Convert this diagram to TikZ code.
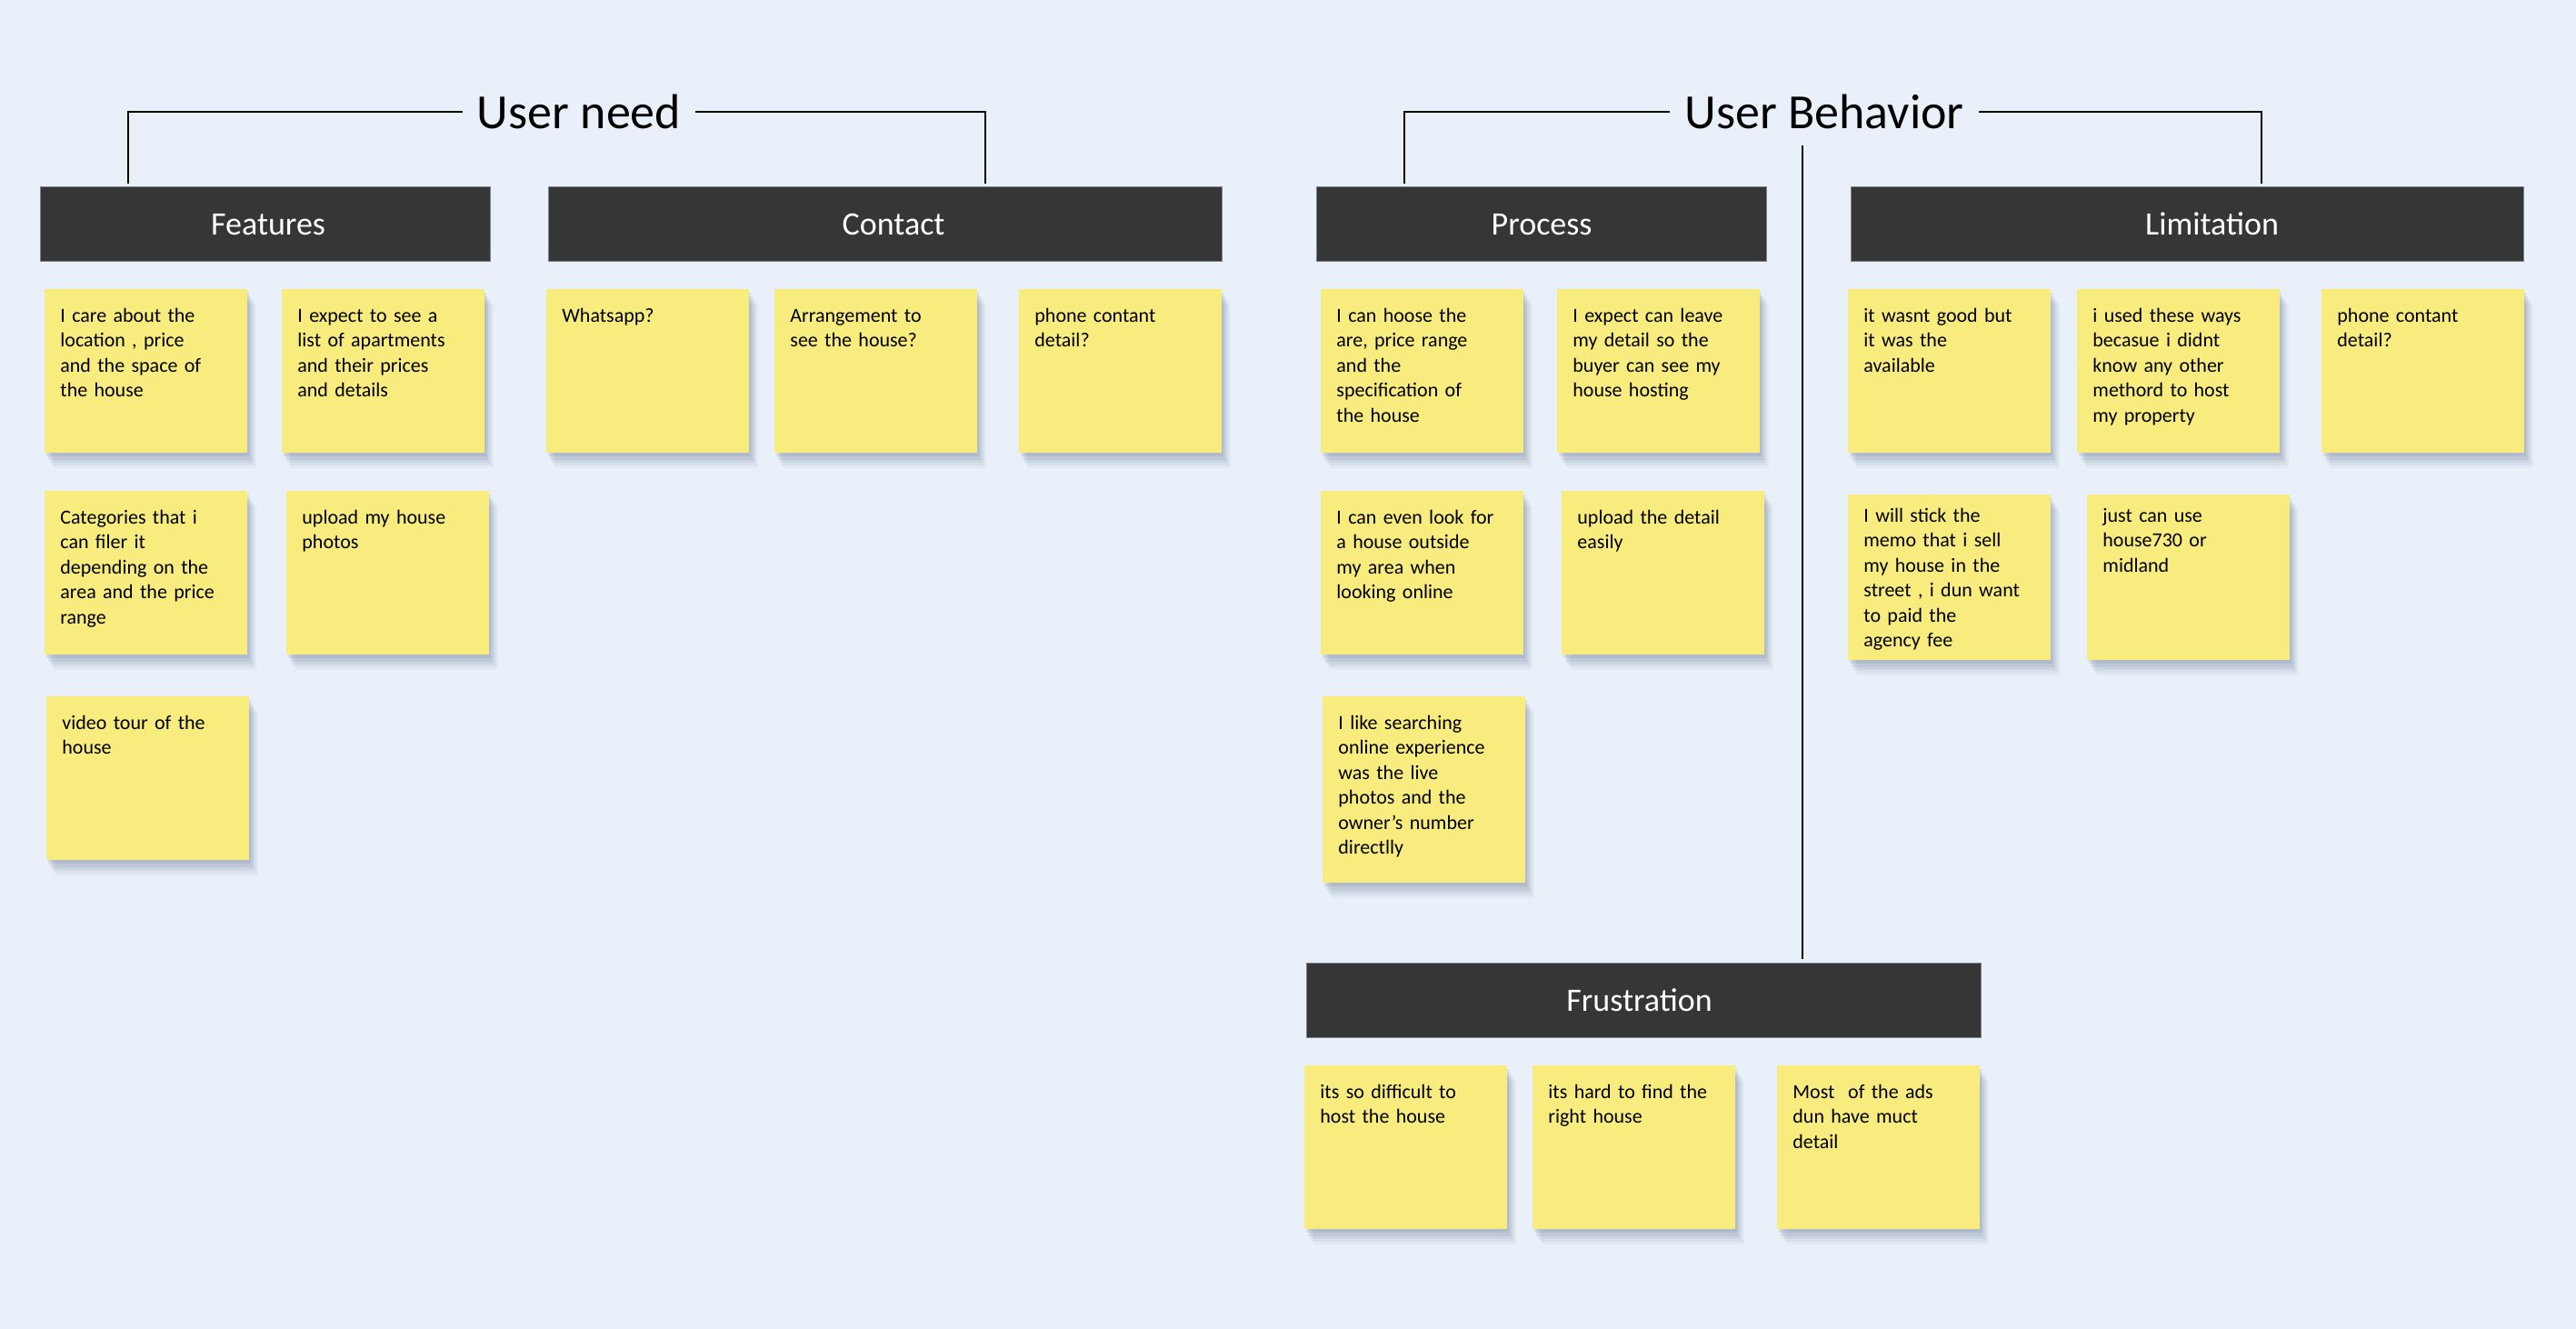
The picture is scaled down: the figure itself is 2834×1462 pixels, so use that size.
\documentclass[tikz,border=0pt]{standalone}
\usepackage{fontspec}
\setmainfont{Carlito}
\usetikzlibrary{shadows}
\definecolor{bgblue}{RGB}{233,240,249}
\definecolor{noteyellow}{RGB}{248,236,127}
\definecolor{hdrfill}{RGB}{54,54,54}
\definecolor{hdredge}{RGB}{125,130,140}
\definecolor{shadowc}{RGB}{90,105,135}
\tikzset{
  title/.style={font=\fontsize{27}{32}\selectfont, inner xsep=8pt, inner ysep=0pt},
  header/.style={anchor=north west, fill=hdrfill, draw=hdredge, line width=0.6pt,
    text=white, font=\fontsize{18}{22}\selectfont, minimum height=41pt, inner sep=0pt},
  sticky/.style={anchor=north west, fill=noteyellow, align=left, text width=94.5pt,
    inner xsep=8.5pt, inner ysep=0pt, text height=18pt, text depth=72pt,
    font=\fontsize{11}{13.7}\selectfont,
    drop shadow={shadow xshift=5pt, shadow yshift=-8.5pt, fill=shadowc, opacity=0.05},
    drop shadow={shadow xshift=4pt, shadow yshift=-7pt, fill=shadowc, opacity=0.07},
    drop shadow={shadow xshift=3pt, shadow yshift=-5.5pt, fill=shadowc, opacity=0.09},
    drop shadow={shadow xshift=2pt, shadow yshift=-4pt, fill=shadowc, opacity=0.11},
    drop shadow={shadow xshift=1pt, shadow yshift=-2pt, fill=shadowc, opacity=0.13}},
  tall/.style={text depth=84.5pt},
  mid/.style={text height=15pt, text depth=76pt},
  link/.style={line width=1pt, black}
}
\begin{document}
\begin{tikzpicture}[x=0.5pt, y=-0.5pt]
  \fill[bgblue] (0,0) rectangle (2834,1462);
  \useasboundingbox (0,0) rectangle (2834,1462);

  % titles
  \node[title] (userneed) at (637,123) {User need};
  \node[title] (userbehavior) at (2007,123) {User Behavior};

  % headers
  \node[header, minimum width=247.5pt] (features) at (44,205) {\hspace*{3pt}Features};
  \node[header, minimum width=370.5pt] (contact) at (603,205) {\hspace*{9pt}Contact};
  \node[header, minimum width=247.5pt] (process) at (1448,205) {Process};
  \node[header, minimum width=370pt] (limitation) at (2036,205) {\hspace*{27pt}Limitation};
  \node[header, minimum width=371pt] (frustration) at (1437,1059) {Frustration\hspace*{5pt}};

  % features
  \node[sticky] (f1) at (49,318) {I care about the\\location , price\\and the space of\\the house};
  \node[sticky] (f2) at (310,318) {I expect to see a\\list of apartments\\and their prices\\and details};
  \node[sticky] (f3) at (49,540) {Categories that i\\can filer it\\depending on the\\area and the price\\range};
  \node[sticky] (f4) at (315,540) {upload my house\\photos};
  \node[sticky] (f5) at (51,766) {video tour of the\\house};

  % contact
  \node[sticky] (c1) at (601,318) {Whatsapp?};
  \node[sticky] (c2) at (852,318) {Arrangement to\\see the house?};
  \node[sticky] (c3) at (1121,318) {phone contant\\detail?};

  % process
  \node[sticky] (p1) at (1453,318) {I can hoose the\\are, price range\\and the\\specification of\\the house};
  \node[sticky] (p2) at (1713,318) {I expect can leave\\my detail so the\\buyer can see my\\house hosting};
  \node[sticky] (p3) at (1453,540) {I can even look for\\a house outside\\my area when\\looking online};
  \node[sticky] (p4) at (1718,540) {upload the detail\\easily};
  \node[sticky, tall] (p5) at (1455,766) {I like searching\\online experience\\was the live\\photos and the\\owner’s number\\directlly};

  % limitation
  \node[sticky] (l1) at (2033,318) {it wasnt good but\\it was the\\available};
  \node[sticky] (l2) at (2285,318) {i used these ways\\becasue i didnt\\know any other\\methord to host\\my property};
  \node[sticky] (l3) at (2554,318) {phone contant\\detail?};
  \node[sticky, mid] (l4) at (2033,544) {I will stick the\\memo that i sell\\my house in the\\street , i dun want\\to paid the\\agency fee};
  \node[sticky, mid] (l5) at (2296,544) {just can use\\house730 or\\midland};

  % frustration
  \node[sticky] (r1) at (1435,1172) {its so difficult to\\host the house};
  \node[sticky] (r2) at (1686,1172) {its hard to find the\\right house};
  \node[sticky] (r3) at (1955,1172) {Most\ \ of the ads\\dun have muct\\detail};

  \coordinate (needL) at (141,202);
  \coordinate (needR) at (1084,202);
  \coordinate (behL) at (1545,202);
  \coordinate (behR) at (2488,202);
  \coordinate (behT) at (1983,160);
  \coordinate (behB) at (1983,1055);
  \begin{scope}[link]
    \draw (userneed.west) -| (needL);
    \draw (userneed.east) -| (needR);
    \draw (userbehavior.west) -| (behL);
    \draw (userbehavior.east) -| (behR);
    \draw (behT) -- (behB);
  \end{scope}
\end{tikzpicture}
\end{document}
